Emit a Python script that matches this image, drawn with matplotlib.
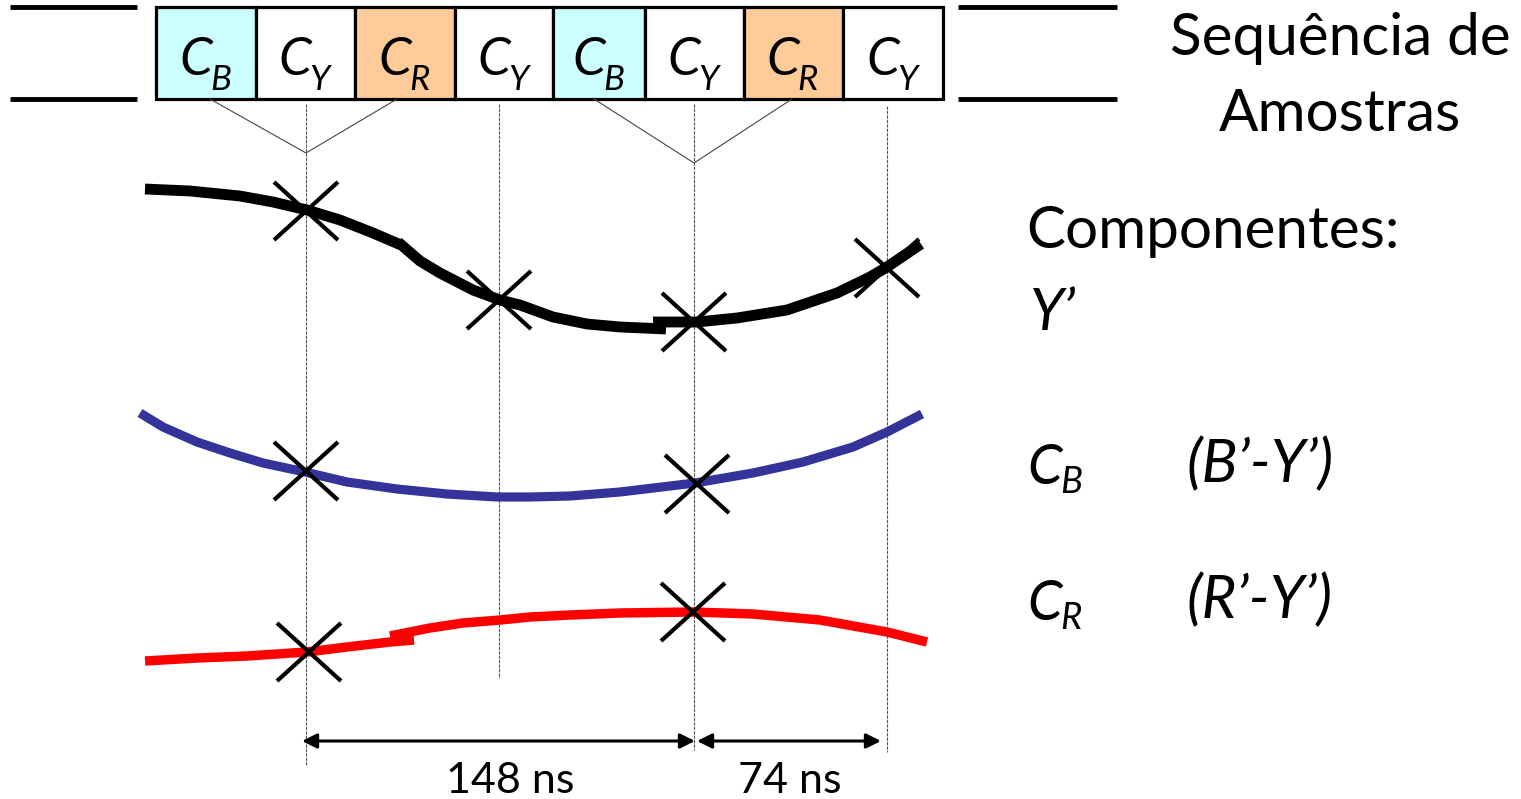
import matplotlib.pyplot as plt
import numpy as np

plt.rcParams['font.family'] = ['Lato', 'DejaVu Sans']

# sample sequence (cells of the top strip)
cell_labels = ['B', 'Y', 'R', 'Y', 'B', 'Y', 'R', 'Y']
cell_colors = ['#CCFFFF', 'white', '#FFCC99', 'white', '#CCFFFF', 'white', '#FFCC99', 'white']
cell_edges = [156, 256, 355, 455, 553, 645, 744, 843, 943]

# sampling instants (x of guide lines)
sample_x = [306, 499, 694, 887]
guide_top = [104, 104, 104, 106]
guide_bot = [765, 678, 750, 752]

# curves (pixel coords), pieces as drawn
y_pieces = [
    ([145, 190, 240, 273, 307, 340, 373, 401],
     [189, 191, 196, 202, 210, 220, 233, 245]),
    ([398, 420, 440, 473, 500, 520, 553, 587, 620, 666],
     [242, 261, 273, 290, 300, 305, 317, 324, 327, 329]),
    ([653, 697, 737, 787, 837, 870, 887, 921],
     [322, 322, 318, 310, 293, 277, 267, 244]),
]
cb_x = [140, 163, 197, 230, 263, 305, 347, 397, 447, 497, 530, 570, 620, 695, 753, 803, 853, 887, 922]
cb_y = [413, 427, 442, 453, 463, 472, 482, 489, 494, 497, 497, 496, 492, 483, 473, 462, 447, 432, 414]
cr_pieces = [
    ([145, 197, 247, 307, 347, 390, 414],
     [661, 658, 656, 652, 647, 642, 640]),
    ([390, 430, 463, 500, 530, 570, 620, 693, 753, 820, 887, 927],
     [636, 628, 623, 620, 617, 615, 613, 612, 614, 620, 632, 642]),
]

# sampled points (X marks)
y_marks = [(306, 211), (499, 300), (694, 322), (887, 268)]
cb_marks = [(306, 471), (697, 484)]
cr_marks = [(309, 652), (693, 612)]

fig = plt.figure(figsize=(15.21, 7.99), dpi=100)
ax = fig.add_axes([0, 0, 1, 1])
ax.set_xlim(0, 1521)
ax.set_ylim(799, 0)
ax.axis('off')


def c_sub(x, y, sub, size, dx, dy):
    # italic C with a lowered italic subscript
    ax.text(x, y, 'C', fontsize=size, style='italic', ha='left', va='baseline', zorder=3)
    ax.text(x + dx, y + dy, sub, fontsize=size * 0.66, style='italic', ha='left',
            va='baseline', zorder=3)


# side lines of the strip
for x0, x1 in [(10, 137), (958, 1117)]:
    ax.plot([x0, x1], [7, 7], color='black', lw=3.5, solid_capstyle='butt')
    ax.plot([x0, x1], [99, 99], color='black', lw=3.5, solid_capstyle='butt')

# cells
for i, lab in enumerate(cell_labels):
    l, r = cell_edges[i], cell_edges[i + 1]
    ax.add_patch(plt.Rectangle((l, 7), r - l, 92, facecolor=cell_colors[i],
                               edgecolor='black', lw=2.3, zorder=2))
    c_sub((l + r) / 2 - 27, 75, lab, 38, 31, 15)

# V connectors
ax.plot([210, 306, 397], [99, 153, 99], color='#444444', lw=0.8)
ax.plot([594, 694, 792], [99, 163, 99], color='#444444', lw=0.8)

# guide lines
for x, t, b in zip(sample_x, guide_top, guide_bot):
    ax.plot([x, x], [t, b], color='#555555', lw=0.8, ls=(0, (3, 1)), zorder=1)

# curves
for xs, ys in y_pieces:
    ax.plot(xs, ys, color='black', lw=7.8, solid_capstyle='butt',
            solid_joinstyle='round', zorder=4)
ax.plot(cb_x, cb_y, color='#333399', lw=6.6, solid_capstyle='butt',
        solid_joinstyle='round', zorder=4)
for xs, ys in cr_pieces:
    ax.plot(xs, ys, color='red', lw=6.8, solid_capstyle='butt',
            solid_joinstyle='round', zorder=4)

# X marks
for cx, cy in y_marks + cb_marks + cr_marks:
    ax.plot([cx - 32, cx + 32], [cy - 29, cy + 29], color='black', lw=3,
            solid_capstyle='butt', zorder=5)
    ax.plot([cx - 32, cx + 32], [cy + 29, cy - 29], color='black', lw=3,
            solid_capstyle='butt', zorder=5)

# time arrows
for x0, x1 in [(302, 695), (697, 881)]:
    ax.annotate('', xy=(x1, 741), xytext=(x0, 741),
                arrowprops=dict(arrowstyle='<|-|>', color='black', lw=2.2,
                                mutation_scale=22, shrinkA=0, shrinkB=0))
ax.text(510, 793, '148 ns', fontsize=31, ha='center', va='baseline')
ax.text(790, 793, '74 ns', fontsize=31, ha='center', va='baseline')

# right side texts
ax.text(1340, 55, 'Sequência de', fontsize=42, ha='center', va='baseline')
ax.text(1340, 131, 'Amostras', fontsize=42, ha='center', va='baseline')
ax.text(1026, 248, 'Componentes:', fontsize=42, ha='left', va='baseline')
ax.text(1030, 330, 'Y’', fontsize=42, style='italic', ha='left', va='baseline')
c_sub(1027, 484, 'B', 40, 33, 9)
ax.text(1186, 482, '(B’-Y’)', fontsize=43, style='italic', ha='left', va='baseline')
c_sub(1027, 620, 'R', 40, 33, 9)
ax.text(1186, 618, '(R’-Y’)', fontsize=43, style='italic', ha='left', va='baseline')

fig.savefig('out.png', dpi=100)
